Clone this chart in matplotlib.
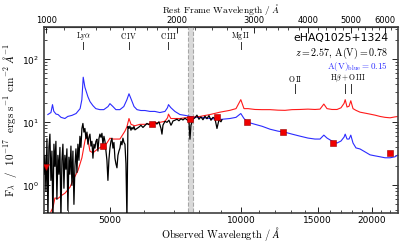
import matplotlib
matplotlib.use("Agg")
import matplotlib.pyplot as plt
import matplotlib.ticker as ticker
import matplotlib.transforms as mtransforms

plt.rcParams['mathtext.fontset'] = 'cm'
plt.rcParams['font.size'] = 6.5

redshift = 2.57

# observed-frame spectrum (black)
spec_wave = [3527, 3545, 3564, 3583, 3602, 3621, 3640, 3659, 3679, 3698,
             3718, 3738, 3757, 3777, 3797, 3817, 3838, 3858, 3879, 3899,
             3920, 3940, 3961, 3982, 4003, 4025, 4046, 4068, 4089, 4111,
             4133, 4155, 4177, 4199, 4221, 4244, 4266, 4289, 4311, 4334,
             4357, 4380, 4404, 4427, 4450, 4474, 4498, 4522, 4546, 4570,
             4594, 4618, 4643, 4668, 4692, 4717, 4742, 4768, 4793, 4818,
             4844, 4870, 4895, 4921, 4947, 4974, 5000, 5027, 5053, 5080,
             5107, 5134, 5161, 5189, 5216, 5244, 5272, 5300, 5328, 5356,
             5384, 5413, 5442, 5470, 5499, 5529, 5558, 5588, 5617, 5647,
             5677, 5707, 5768, 5829, 5891, 5954, 6017, 6081, 6145, 6211,
             6277, 6344, 6411, 6480, 6549, 6584, 6619, 6689, 6760, 6832,
             6905, 6941, 6978, 7052, 7127, 7203, 7280, 7357, 7436, 7515,
             7595, 7635, 7675, 7757, 7839, 7922, 8006, 8092, 8178, 8265,
             8353, 8442, 8532, 8623, 8714, 8807, 8901, 8995, 9043]
spec_flux = [1.5, 3.0, 0.8, 5.5, 0.3, 4.0, 6.5, 1.2, 3.5, 0.25,
             4.5, 2.0, 5.0, 0.6, 3.0, 1.5, 4.0, 0.3, 2.5, 4.5,
             0.9, 3.0, 1.8, 3.8, 0.4, 2.8, 1.5, 4.2, 1.0, 3.5,
             0.5, 2.0, 3.8, 1.6, 4.5, 2.5, 6.0, 4.0, 8.0, 9.6,
             7.0, 8.0, 5.5, 7.0, 4.5, 5.8, 6.5, 4.2, 5.0, 2.7,
             4.5, 3.9, 5.0, 5.4, 3.5, 5.5, 6.5, 5.8, 6.7, 4.5,
             6.0, 5.0, 3.6, 2.5, 1.2, 2.6, 3.9, 5.0, 5.6, 3.9,
             4.8, 2.7, 2.2, 1.9, 3.0, 3.5, 3.9, 5.0, 4.4, 5.6,
             4.8, 4.5, 2.2, 0.3, 8.6, 8.0, 8.7, 7.5, 8.3, 7.8,
             8.6, 7.6, 8.0, 8.4, 9.0, 8.3, 8.9, 9.6, 9.2, 9.8,
             9.3, 10.0, 9.4, 10.2, 8.0, 6.5, 9.0, 10.4, 10.0, 10.8,
             9.0, 9.6, 10.5, 10.8, 11.2, 10.6, 11.4, 10.9, 11.6, 11.0,
             10.5, 5.4, 9.0, 11.2, 11.8, 13.0, 11.2, 12.2, 11.0, 12.5,
             11.4, 12.8, 10.8, 12.0, 11.5, 8.0, 11.0, 10.2, 11.0]

# composite with A(V)_blue
blue_wave = [3600, 3660, 3690, 3715, 3760, 3800, 3860, 3940, 4000, 4090,
             4180, 4270, 4310, 4341, 4380, 4450, 4500, 4570, 4640, 4740,
             4840, 4950, 5000, 5080, 5160, 5270, 5380, 5470, 5530, 5590,
             5680, 5770, 5890, 6020, 6180, 6340, 6510, 6690, 6780, 6815,
             6900, 7050, 7240, 7440, 7640, 7840, 8050, 8490, 8950, 9430,
             9740, 9990, 10160, 10380, 10770, 11180, 11660, 12160, 12620, 13100,
             13660, 14250, 14790, 15190, 15500, 15760, 16180, 16620, 16970, 17250,
             17354, 17520, 17710, 17875, 18085, 18370, 18770, 19270, 19790, 20320,
             20870, 21420, 22000, 22580, 22950]
blue_flux = [13.3, 14.3, 19.1, 15.0, 13.5, 13.3, 12.0, 11.5, 12.4, 12.9,
             13.8, 16.5, 22.9, 52.0, 36.0, 25.5, 21.3, 18.4, 16.5, 15.9,
             15.9, 17.8, 19.8, 17.8, 15.9, 15.9, 17.8, 22.9, 28.4, 23.6,
             17.8, 15.9, 15.4, 15.4, 14.9, 14.9, 14.3, 14.9, 17.1, 19.1,
             17.1, 14.9, 13.3, 12.9, 12.4, 12.0, 12.0, 11.5, 11.1, 11.5,
             12.0, 13.8, 11.5, 10.0, 9.3, 8.66, 7.78, 7.25, 6.97, 6.5,
             6.04, 5.63, 5.43, 5.43, 6.27, 5.63, 5.05, 4.70, 5.05, 5.83,
             6.5, 5.43, 5.43, 6.27, 4.70, 3.93, 3.78, 3.40, 3.05, 2.94,
             2.84, 2.74, 2.74, 2.84, 3.05]

# composite with A(V)
red_wave = [3600, 3700, 3738, 3800, 3880, 3940, 4046, 4111, 4221, 4311,
            4380, 4427, 4498, 4570, 4692, 4818, 4921, 5000, 5080, 5272,
            5413, 5470, 5530, 5590, 5700, 5860, 6020, 6180, 6340, 6510,
            6690, 6780, 6815, 6900, 7050, 7240, 7440, 7640, 7840, 8050,
            8490, 8950, 9430, 9740, 9990, 10160, 10380, 10770, 11180, 11660,
            12160, 12620, 13100, 13660, 14250, 14790, 15190, 15500, 15760, 16180,
            16620, 16970, 17250, 17354, 17520, 17710, 17875, 18085, 18370, 18770,
            19270, 19790, 20320, 20870, 21420, 22000, 22580, 22950]
red_flux = [0.30, 0.45, 0.63, 0.62, 0.70, 0.75, 0.93, 1.2, 1.71, 2.74,
            5.05, 6.5, 3.5, 3.28, 3.8, 4.2, 4.7, 5.6, 5.43, 5.43,
            7.25, 8.5, 11.5, 9.3, 8.8, 9.3, 9.3, 9.5, 9.8, 10.0,
            10.4, 11.8, 13.5, 11.5, 11.5, 11.5, 11.8, 12.0, 12.2, 12.4,
            13.3, 14.5, 15.5, 16.5, 22.9, 16.5, 16.5, 16.0, 15.9, 15.9,
            15.6, 15.5, 15.9, 16.0, 16.2, 16.0, 16.2, 19.5, 16.5, 16.0,
            16.0, 17.0, 20.0, 22.9, 17.5, 18.0, 22.0, 16.5, 15.5, 14.5,
            14.0, 13.5, 13.0, 12.4, 12.0, 11.8, 12.2, 12.4]

# photometry
phot_wave = [4820, 6250, 7635, 8830, 10310, 12500, 16300, 22000]
phot_flux = [4.2, 9.3, 11.5, 12.0, 10.0, 7.0, 4.7, 3.3]
ulim_wave = [3560]
ulim_flux = [1.98]

# emission line labels (rest frame)
line_names = [r'$\mathrm{Ly}\alpha$', r'$\mathrm{C\,IV}$', r'$\mathrm{C\,III}$', r'$\mathrm{Mg\,II}$']
line_rest = [1216, 1549, 1909, 2798]
line2_rest = [3727, 4861, 5007]

fig = plt.figure(figsize=(4.07, 2.42), dpi=100)
ax = fig.add_axes([0.108, 0.12, 0.870, 0.77])

ax.axvspan(7545, 7745, facecolor='0.85', edgecolor='0.65', linestyle='--', linewidth=0.8, zorder=1)
ax.plot(blue_wave, blue_flux, color='#2b2bff', lw=0.8, zorder=2)
ax.plot(red_wave, red_flux, color='#ff1a1a', lw=0.8, zorder=2)
ax.plot(spec_wave, spec_flux, color='black', lw=0.9, zorder=3)
ax.plot(phot_wave, phot_flux, 's', color='#ee0000', mec='#990000', mew=0.4, ms=4.5, zorder=4)
ax.plot(ulim_wave, ulim_flux, 'v', color='#ee0000', mec='#990000', mew=0.4, ms=4.5, zorder=4)

ax.set_xscale('log')
ax.set_yscale('log')
ax.set_xlim(3527, 22950)
ax.set_ylim(0.365, 330)

ax.xaxis.set_major_locator(ticker.FixedLocator([5000, 10000, 15000, 20000]))
ax.xaxis.set_major_formatter(ticker.FixedFormatter(['5000', '10000', '15000', '20000']))
ax.xaxis.set_minor_locator(ticker.FixedLocator([4000, 6000, 7000, 8000, 9000, 11000, 12000,
                                                13000, 14000, 16000, 17000, 18000, 19000,
                                                21000, 22000]))
ax.xaxis.set_minor_formatter(ticker.NullFormatter())
ax.tick_params(which='both', direction='in', top=False, right=True, labelsize=6.5)
ax.tick_params(which='major', length=4, width=0.6)
ax.tick_params(which='minor', length=2, width=0.5)
ax.tick_params(axis='x', pad=2)
for s in ax.spines.values():
    s.set_linewidth(1.2)
    s.set_color('0.25')

top = ax.secondary_xaxis('top', functions=(lambda w: w / (1 + redshift), lambda w: w * (1 + redshift)))
top.set_xticks([1000, 2000, 3000, 4000, 5000, 6000])
top.xaxis.set_major_formatter(ticker.FixedFormatter(['1000', '2000', '3000', '4000', '5000', '6000']))
top.xaxis.set_minor_locator(ticker.FixedLocator([1100, 1200, 1300, 1400, 1500, 1600, 1700, 1800, 1900,
                                                 2200, 2400, 2600, 2800, 3200, 3400, 3600, 3800,
                                                 4200, 4400, 4600, 4800, 5200, 5400, 5600, 5800, 6200]))
top.xaxis.set_minor_formatter(ticker.NullFormatter())
top.tick_params(which='both', direction='in', labelsize=6.0, pad=1)
top.tick_params(which='major', length=4, width=0.6)
top.tick_params(which='minor', length=2, width=0.5)
top.set_xlabel(r'$\mathrm{Rest\ Frame\ Wavelength}\ /\ \AA$', fontsize=6.8, labelpad=2.5)

ax.set_xlabel(r'$\mathrm{Observed\ Wavelength}\ /\ \AA$', fontsize=7.5, labelpad=0)
ax.set_ylabel(r'$\mathrm{F}_\lambda\ \ /\ \ 10^{-17}\ \ \mathrm{ergs\ s^{-1}\ cm^{-2}}\ \AA^{-1}$',
              fontsize=8, labelpad=2)

trans = mtransforms.blended_transform_factory(ax.transData, ax.transAxes)
for name, rest in zip(line_names, line_rest):
    w = rest * (1 + redshift)
    ax.text(w, 0.952, name, transform=trans, ha='center', va='center', fontsize=5.5)
    ax.plot([w, w], [0.878, 0.915], transform=trans, color='0.2', lw=0.7)
ax.text(line2_rest[0] * (1 + redshift), 0.72, r'$\mathrm{O\,II}$', transform=trans,
        ha='center', va='center', fontsize=5.5)
ax.text((line2_rest[1] + line2_rest[2]) / 2 * (1 + redshift), 0.72, r'$\mathrm{H}\beta + \mathrm{O\,III}$',
        transform=trans, ha='center', va='center', fontsize=5.5)
for rest in line2_rest:
    w = rest * (1 + redshift)
    ax.plot([w, w], [0.646, 0.693], transform=trans, color='0.2', lw=0.7)

ax.text(0.972, 0.937, 'eHAQ1025+1324', transform=ax.transAxes, ha='right', va='center', fontsize=7.8)
ax.text(0.972, 0.855, r'$z = 2.57,\, \mathrm{A(V)} = 0.78$', transform=ax.transAxes,
        ha='right', va='center', fontsize=7.2)
ax.text(0.972, 0.785, r'$\mathrm{A(V)}_{\mathrm{blue}} = 0.15$', transform=ax.transAxes,
        ha='right', va='center', fontsize=6.5, color='#2b2bff')

fig.savefig('out.png', dpi=100)
